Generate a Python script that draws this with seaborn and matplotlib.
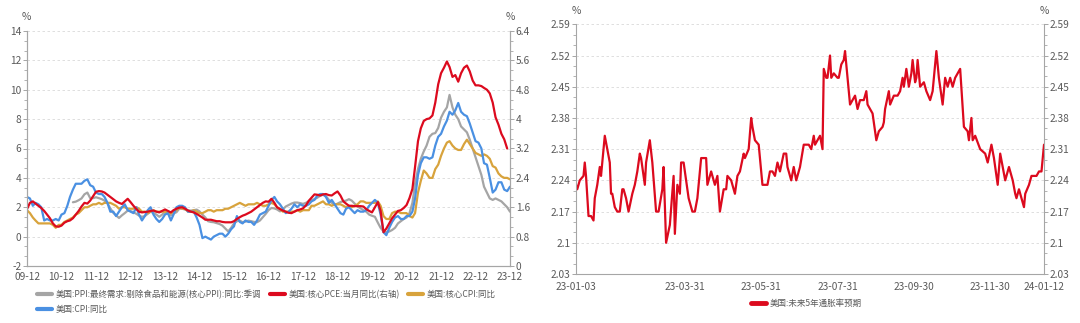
import numpy as np
import pandas as pd
import matplotlib
matplotlib.use('Agg')
import matplotlib.pyplot as plt
import matplotlib.dates as mdates
from matplotlib.ticker import AutoMinorLocator, FixedLocator, FixedFormatter, NullFormatter
from matplotlib.lines import Line2D
import seaborn as sns

sns.set_theme(style='white')
plt.rcParams['font.family'] = ['Noto Sans CJK SC', 'DejaVu Sans']
plt.rcParams['axes.unicode_minus'] = False

# ---------------- Left chart data (monthly, 2009-12 .. 2023-12) ----------------
month_start = '2009-12-01'
month_end = '2023-12-01'

cpi_yoy = [2.7,
    2.6, 2.1, 2.3, 2.2, 2.0, 1.1, 1.2, 1.1, 1.1, 1.2, 1.1, 1.5,
    1.6, 2.1, 2.7, 3.2, 3.6, 3.6, 3.6, 3.8, 3.9, 3.5, 3.4, 3.0,
    2.9, 2.9, 2.7, 2.3, 1.7, 1.7, 1.4, 1.7, 2.0, 2.2, 1.8, 1.7,
    1.6, 2.0, 1.5, 1.1, 1.4, 1.8, 2.0, 1.5, 1.2, 1.0, 1.2, 1.5,
    1.6, 1.1, 1.5, 2.0, 2.1, 2.1, 2.0, 1.7, 1.7, 1.7, 1.3, 0.8,
    -0.1, 0.0, -0.1, -0.2, 0.0, 0.1, 0.2, 0.2, 0.0, 0.2, 0.5, 0.7,
    1.4, 1.0, 0.9, 1.1, 1.0, 1.0, 0.8, 1.1, 1.5, 1.6, 1.7, 2.1,
    2.5, 2.7, 2.4, 2.2, 1.9, 1.6, 1.7, 1.9, 2.2, 2.0, 2.2, 2.1,
    2.1, 2.2, 2.4, 2.5, 2.8, 2.9, 2.9, 2.7, 2.3, 2.5, 2.2, 1.9,
    1.6, 1.5, 1.9, 2.0, 1.8, 1.6, 1.8, 1.7, 1.7, 1.8, 2.1, 2.3,
    2.5, 2.3, 1.5, 0.3, 0.1, 0.6, 1.0, 1.3, 1.4, 1.2, 1.2, 1.4,
    1.4, 1.7, 2.6, 4.2, 5.0, 5.4, 5.4, 5.3, 5.4, 6.2, 6.8, 7.0,
    7.5, 7.9, 8.5, 8.3, 8.6, 9.1, 8.5, 8.3, 8.2, 7.7, 7.1, 6.5,
    6.4, 6.0, 5.0, 4.9, 4.0, 3.0, 3.2, 3.7, 3.7, 3.2, 3.1, 3.4]

core_cpi_yoy = [1.8,
    1.6, 1.3, 1.1, 0.9, 0.9, 0.9, 0.9, 0.9, 0.8, 0.6, 0.8, 0.8,
    1.0, 1.1, 1.2, 1.3, 1.5, 1.6, 1.8, 2.0, 2.0, 2.1, 2.2, 2.2,
    2.3, 2.2, 2.3, 2.3, 2.3, 2.2, 2.1, 1.9, 2.0, 2.0, 1.9, 1.9,
    1.9, 2.0, 1.9, 1.7, 1.7, 1.6, 1.7, 1.8, 1.7, 1.7, 1.7, 1.7,
    1.6, 1.6, 1.7, 1.8, 2.0, 1.9, 1.9, 1.7, 1.7, 1.8, 1.7, 1.6,
    1.6, 1.7, 1.8, 1.8, 1.7, 1.8, 1.8, 1.8, 1.9, 1.9, 2.0, 2.1,
    2.2, 2.3, 2.2, 2.1, 2.2, 2.2, 2.2, 2.3, 2.2, 2.1, 2.1, 2.2,
    2.3, 2.2, 2.0, 1.9, 1.7, 1.7, 1.7, 1.7, 1.7, 1.8, 1.7, 1.8,
    1.8, 1.8, 2.1, 2.1, 2.2, 2.3, 2.4, 2.2, 2.2, 2.1, 2.2, 2.2,
    2.2, 2.1, 2.0, 2.1, 2.0, 2.1, 2.2, 2.4, 2.4, 2.3, 2.3, 2.3,
    2.3, 2.4, 2.1, 1.4, 1.2, 1.2, 1.6, 1.7, 1.7, 1.6, 1.6, 1.6,
    1.4, 1.3, 1.6, 3.0, 3.8, 4.5, 4.3, 4.0, 4.0, 4.6, 4.9, 5.5,
    6.0, 6.4, 6.5, 6.2, 6.0, 5.9, 5.9, 6.3, 6.6, 6.3, 6.0, 5.7,
    5.6, 5.5, 5.6, 5.5, 5.3, 4.8, 4.7, 4.3, 4.1, 4.0, 4.0, 3.9]

# core PCE (right axis), 2009-12 .. 2023-11
core_pce_yoy = [1.55,
    1.72, 1.76, 1.70, 1.64, 1.58, 1.50, 1.40, 1.30, 1.16, 1.08, 1.07, 1.10,
    1.18, 1.22, 1.24, 1.30, 1.40, 1.50, 1.62, 1.72, 1.70, 1.78, 1.90, 2.02,
    2.04, 2.03, 2.00, 1.94, 1.88, 1.82, 1.76, 1.72, 1.69, 1.76, 1.83, 1.74,
    1.64, 1.55, 1.48, 1.46, 1.47, 1.48, 1.50, 1.51, 1.48, 1.46, 1.50, 1.54,
    1.50, 1.46, 1.52, 1.56, 1.59, 1.60, 1.56, 1.51, 1.48, 1.46, 1.42, 1.37,
    1.32, 1.26, 1.26, 1.26, 1.24, 1.22, 1.22, 1.20, 1.19, 1.19, 1.19, 1.22,
    1.28, 1.33, 1.37, 1.40, 1.44, 1.48, 1.54, 1.60, 1.66, 1.72, 1.76, 1.75,
    1.83, 1.72, 1.60, 1.55, 1.51, 1.48, 1.45, 1.44, 1.48, 1.52, 1.54, 1.57,
    1.65, 1.78, 1.86, 1.95, 1.94, 1.92, 1.95, 1.96, 1.93, 1.92, 1.98, 2.03,
    1.92, 1.76, 1.70, 1.64, 1.64, 1.63, 1.63, 1.63, 1.62, 1.55, 1.50, 1.46,
    1.60, 1.74, 1.50, 0.92, 1.02, 1.16, 1.30, 1.40, 1.50, 1.52, 1.58, 1.66,
    1.85, 2.10, 2.70, 3.40, 3.75, 3.95, 4.00, 4.02, 4.10, 4.45, 4.95, 5.25,
    5.40, 5.57, 5.42, 5.15, 5.20, 5.02, 5.25, 5.40, 5.46, 5.30, 5.05, 4.92,
    4.92, 4.90, 4.85, 4.80, 4.70, 4.45, 4.05, 3.85, 3.60, 3.45, 3.20]

# core PPI (final demand less food & energy), 2011-04 .. 2023-12
core_ppi_start = '2011-04-01'
core_ppi_yoy = [
    2.34, 2.38, 2.48, 2.60, 2.88, 3.00, 2.62, 2.62, 2.68,
    2.62, 2.55, 2.45, 2.25, 1.93, 1.62, 1.45, 1.27, 1.45, 1.60, 1.77, 1.74,
    1.66, 1.55, 1.43, 1.35, 1.40, 1.55, 1.70, 1.62, 1.50, 1.35, 1.50, 1.68,
    1.55, 1.45, 1.58, 1.66, 1.90, 1.90, 1.84, 1.80, 1.77, 1.80, 1.84, 1.72,
    1.50, 1.30, 1.05, 1.00, 0.98, 0.92, 0.86, 0.75, 0.55, 0.35, 0.60, 0.90,
    1.05, 1.09, 0.98, 1.02, 1.09, 1.05, 1.00, 0.98, 1.10, 1.32, 1.55, 1.80,
    1.95, 1.92, 1.85, 1.72, 1.85, 2.05, 2.15, 2.25, 2.32, 2.32, 2.28, 2.23,
    2.30, 2.42, 2.50, 2.55, 2.65, 2.78, 2.85, 2.75, 2.50, 2.30, 2.15, 2.25,
    2.35, 2.42, 2.45, 2.55, 2.45, 2.25, 2.05, 1.93, 1.80, 1.70, 1.50, 1.42,
    1.35, 0.95, 0.60, 0.35, 0.30, 0.35, 0.45, 0.60, 0.90, 1.05, 1.20, 1.30,
    1.60, 2.30, 3.60, 4.60, 5.30, 5.80, 6.20, 6.80, 7.00, 7.05, 7.40, 8.10,
    8.50, 8.80, 9.65, 8.80, 8.30, 8.00, 7.50, 7.30, 7.10, 6.60, 6.00, 5.40,
    4.80, 4.20, 3.40, 3.00, 2.60, 2.50, 2.60, 2.50, 2.40, 2.20, 2.00, 1.70]

left_yticks = [-2, 0, 2, 4, 6, 8, 10, 12, 14]
right_yticks = [0, 0.8, 1.6, 2.4, 3.2, 4.0, 4.8, 5.6, 6.4]
right_ylabels = ['0', '0.8', '1.6', '2.4', '3.2', '4', '4.8', '5.6', '6.4']
left_names = ['美国:PPI:最终需求:剔除食品和能源(核心PPI):同比:季调',
              '美国:核心PCE:当月同比(右轴)',
              '美国:核心CPI:同比',
              '美国:CPI:同比']

# ---------------- Right chart data (daily, 5Y breakeven) ----------------
be_dates = ['2023-01-03', '2023-01-04', '2023-01-06', '2023-01-09', '2023-01-10', '2023-01-11',
    '2023-01-13', '2023-01-15', '2023-01-17', '2023-01-18', '2023-01-20', '2023-01-22',
    '2023-01-23', '2023-01-26', '2023-01-28', '2023-01-30', '2023-01-31', '2023-02-01',
    '2023-02-03', '2023-02-05', '2023-02-07', '2023-02-09', '2023-02-10', '2023-02-12',
    '2023-02-14', '2023-02-17', '2023-02-19', '2023-02-21', '2023-02-23', '2023-02-24',
    '2023-02-27', '2023-02-28', '2023-03-03', '2023-03-05', '2023-03-08', '2023-03-10',
    '2023-03-13', '2023-03-14', '2023-03-16', '2023-03-19', '2023-03-22', '2023-03-23',
    '2023-03-25', '2023-03-27', '2023-03-28', '2023-03-30', '2023-04-01', '2023-04-03',
    '2023-04-06', '2023-04-08', '2023-04-10', '2023-04-13', '2023-04-17', '2023-04-18',
    '2023-04-21', '2023-04-24', '2023-04-26', '2023-04-28', '2023-05-01', '2023-05-03',
    '2023-05-04', '2023-05-07', '2023-05-10', '2023-05-12', '2023-05-14', '2023-05-17',
    '2023-05-18', '2023-05-21', '2023-05-23', '2023-05-24', '2023-05-26', '2023-05-29',
    '2023-06-01', '2023-06-05', '2023-06-07', '2023-06-09', '2023-06-11', '2023-06-13',
    '2023-06-15', '2023-06-18', '2023-06-20', '2023-06-21', '2023-06-24', '2023-06-26',
    '2023-06-28', '2023-07-01', '2023-07-04', '2023-07-08', '2023-07-10', '2023-07-12',
    '2023-07-13', '2023-07-15', '2023-07-17', '2023-07-19', '2023-07-20', '2023-07-22',
    '2023-07-23', '2023-07-25', '2023-07-26', '2023-07-28', '2023-07-31', '2023-08-01',
    '2023-08-03', '2023-08-05', '2023-08-06', '2023-08-08', '2023-08-10', '2023-08-12',
    '2023-08-14', '2023-08-16', '2023-08-18', '2023-08-21', '2023-08-23', '2023-08-24',
    '2023-08-26', '2023-08-28', '2023-08-31', '2023-09-02', '2023-09-05', '2023-09-06',
    '2023-09-07', '2023-09-10', '2023-09-11', '2023-09-14', '2023-09-17', '2023-09-19',
    '2023-09-21', '2023-09-22', '2023-09-24', '2023-09-26', '2023-09-28', '2023-09-29',
    '2023-10-01', '2023-10-02', '2023-10-03', '2023-10-05', '2023-10-08', '2023-10-10',
    '2023-10-13', '2023-10-15', '2023-10-18', '2023-10-20', '2023-10-23', '2023-10-25',
    '2023-10-27', '2023-10-29', '2023-10-31', '2023-11-02', '2023-11-06', '2023-11-09',
    '2023-11-12', '2023-11-13', '2023-11-15', '2023-11-16', '2023-11-18', '2023-11-22',
    '2023-11-26', '2023-11-28', '2023-12-01', '2023-12-03', '2023-12-06', '2023-12-08',
    '2023-12-12', '2023-12-15', '2023-12-18', '2023-12-20', '2023-12-21', '2023-12-23',
    '2023-12-27', '2023-12-28', '2023-12-31', '2024-01-02', '2024-01-04', '2024-01-06',
    '2024-01-08', '2024-01-10', '2024-01-12']
be_values = [2.23, 2.22, 2.24, 2.25, 2.28, 2.25,
    2.16, 2.16, 2.15, 2.20, 2.23, 2.27,
    2.25, 2.34, 2.31, 2.28, 2.21, 2.21,
    2.18, 2.17, 2.17, 2.22, 2.22, 2.20,
    2.17, 2.21, 2.23, 2.26, 2.30, 2.29,
    2.23, 2.28, 2.33, 2.28, 2.17, 2.17,
    2.22, 2.27, 2.10, 2.14, 2.25, 2.12,
    2.23, 2.21, 2.28, 2.28, 2.24, 2.20,
    2.17, 2.17, 2.20, 2.29, 2.29, 2.23,
    2.26, 2.23, 2.25, 2.17, 2.22, 2.22,
    2.25, 2.24, 2.21, 2.25, 2.26, 2.30,
    2.29, 2.31, 2.38, 2.36, 2.33, 2.32,
    2.23, 2.23, 2.26, 2.26, 2.25, 2.28,
    2.26, 2.30, 2.30, 2.27, 2.24, 2.27,
    2.24, 2.27, 2.32, 2.32, 2.31, 2.34,
    2.32, 2.33, 2.34, 2.31, 2.49, 2.47,
    2.47, 2.52, 2.47, 2.48, 2.47, 2.47,
    2.50, 2.51, 2.53, 2.47, 2.41, 2.42,
    2.43, 2.40, 2.42, 2.42, 2.44, 2.41,
    2.40, 2.39, 2.33, 2.35, 2.36, 2.37,
    2.40, 2.44, 2.41, 2.43, 2.43, 2.44,
    2.47, 2.45, 2.49, 2.45, 2.48, 2.51,
    2.46, 2.47, 2.51, 2.45, 2.46, 2.44,
    2.42, 2.44, 2.53, 2.47, 2.41, 2.47,
    2.45, 2.47, 2.45, 2.47, 2.49, 2.36,
    2.35, 2.33, 2.38, 2.33, 2.34, 2.31,
    2.30, 2.28, 2.32, 2.29, 2.23, 2.30,
    2.24, 2.27, 2.24, 2.21, 2.20, 2.22,
    2.18, 2.21, 2.23, 2.25, 2.25, 2.25,
    2.26, 2.26, 2.32]
be_yticks = [2.03, 2.10, 2.17, 2.24, 2.31, 2.38, 2.45, 2.52, 2.59]
be_ylabels = ['2.03', '2.1', '2.17', '2.24', '2.31', '2.38', '2.45', '2.52', '2.59']
be_xlabel_dates = ['2023-01-03', '2023-03-31', '2023-05-31', '2023-07-31', '2023-09-30', '2023-11-30', '2024-01-12']
be_name = '美国:未来5年通胀率预期'

# ---------------- Build frames ----------------
months = pd.date_range(month_start, month_end, freq='MS')
assert len(cpi_yoy) == len(months) == len(core_cpi_yoy)
assert len(core_pce_yoy) == len(months) - 1
ppi_months = pd.date_range(core_ppi_start, month_end, freq='MS')
assert len(core_ppi_yoy) == len(ppi_months)
assert len(be_dates) == len(be_values)

df_cpi = pd.DataFrame({'date': months, 'v': cpi_yoy})
df_ccpi = pd.DataFrame({'date': months, 'v': core_cpi_yoy})
df_pce = pd.DataFrame({'date': months[:-1], 'v': core_pce_yoy})
df_ppi = pd.DataFrame({'date': ppi_months, 'v': core_ppi_yoy})
df_be = pd.DataFrame({'date': pd.to_datetime(be_dates), 'v': be_values})

C_GRAY = '#A5A5A5'
C_RED = '#DC0A1E'
C_GOLD = '#D8A33C'
C_BLUE = '#4A90E2'
AX_COL = '#A6A6A6'
TXT = '#595959'
GRID = '#D9D9D9'
LW = 1.6
FS = 7.3
LFS = 6.1

fig = plt.figure(figsize=(10.8, 3.23), dpi=100)

def style_axis(a):
    for s in ['left', 'right', 'bottom']:
        a.spines[s].set_color(AX_COL)
        a.spines[s].set_linewidth(0.8)
    a.spines['top'].set_visible(False)
    a.tick_params(axis='both', which='major', direction='out', length=3, width=0.7,
                  colors=AX_COL, labelcolor=TXT, labelsize=FS, pad=1.2)
    a.tick_params(axis='both', which='minor', direction='out', length=2, width=0.6,
                  colors=AX_COL)

# ---------------- Left chart ----------------
ax = fig.add_axes([27/1080, 1-266/323, (510-27)/1080, (266-31)/323])
sns.lineplot(data=df_ppi, x='date', y='v', ax=ax, color=C_GRAY, linewidth=LW, legend=False)
sns.lineplot(data=df_ccpi, x='date', y='v', ax=ax, color=C_GOLD, linewidth=LW, legend=False)
sns.lineplot(data=df_cpi, x='date', y='v', ax=ax, color=C_BLUE, linewidth=LW, legend=False)
ax.set_ylim(-2, 14)
ax.set_xlim(months[0], months[-1])
ax.yaxis.set_major_locator(FixedLocator(left_yticks))
ax.yaxis.set_minor_locator(AutoMinorLocator(3))
ax.xaxis.set_major_locator(mdates.MonthLocator(bymonth=[12]))
ax.xaxis.set_major_formatter(mdates.DateFormatter('%y-%m'))
ax.xaxis.set_minor_locator(mdates.MonthLocator(bymonth=[3, 6, 9]))
ax.set_xlabel('')
ax.set_ylabel('')
ax.yaxis.grid(True, which='major', linestyle=(0, (3, 3)), color=GRID, linewidth=0.6)
ax.set_axisbelow(True)
style_axis(ax)

ax2 = ax.twinx()
sns.lineplot(data=df_pce, x='date', y='v', ax=ax2, color=C_RED, linewidth=LW, legend=False)
ax2.set_ylim(0, 6.4)
ax2.yaxis.set_major_locator(FixedLocator(right_yticks))
ax2.yaxis.set_major_formatter(FixedFormatter(right_ylabels))
ax2.yaxis.set_minor_locator(AutoMinorLocator(3))
ax2.set_ylabel('')
style_axis(ax2)
ax2.set_xlim(months[0], months[-1])

fig.text(26/1080, 1-17/323, '%', fontsize=FS, color=TXT, ha='center', va='center')
fig.text(510/1080, 1-17/323, '%', fontsize=FS, color=TXT, ha='center', va='center')

handles = [Line2D([], [], color=C_GRAY, lw=3), Line2D([], [], color=C_BLUE, lw=3),
           Line2D([], [], color=C_RED, lw=3), Line2D([], [], color=C_GOLD, lw=3)]
labels = [left_names[0], left_names[3], left_names[1], left_names[2]]
fig.legend(handles, labels, loc='upper left', bbox_to_anchor=(37/1080, 1-290/323),
           ncol=3, frameon=False, fontsize=LFS, handlelength=1.8, handletextpad=0.4,
           columnspacing=1.0, borderaxespad=0, borderpad=0, labelspacing=0.65,
           labelcolor=TXT)

# ---------------- Right chart ----------------
bx = fig.add_axes([576/1080, 1-274/323, (1044-576)/1080, (274-24.3)/323])
sns.lineplot(data=df_be, x='date', y='v', ax=bx, color=C_RED, linewidth=LW, legend=False)
bx.set_ylim(2.03, 2.59)
x0, x1 = pd.Timestamp(be_dates[0]), pd.Timestamp(be_dates[-1])
bx.set_xlim(x0, x1)
bx.yaxis.set_major_locator(FixedLocator(be_yticks))
bx.yaxis.set_major_formatter(FixedFormatter(be_ylabels))
bx.yaxis.set_minor_locator(AutoMinorLocator(3))
month_ends = list(pd.date_range('2023-01-31', '2023-12-31', freq='ME'))
xt = [x0] + month_ends + [x1]
lab_set = set(pd.to_datetime(be_xlabel_dates))
xl = [d.strftime('%y-%m-%d') if d in lab_set else '' for d in xt]
bx.xaxis.set_major_locator(FixedLocator(mdates.date2num(xt)))
bx.xaxis.set_major_formatter(FixedFormatter(xl))
bx.set_xlabel('')
bx.set_ylabel('')
bx.yaxis.grid(True, which='major', linestyle=(0, (3, 3)), color=GRID, linewidth=0.6)
bx.set_axisbelow(True)
style_axis(bx)
bx.spines['right'].set_visible(True)
bx.tick_params(axis='y', which='both', left=True, right=True, labelleft=True, labelright=True)
bx.tick_params(axis='x', which='major', pad=2.5)

fig.text(576/1080, 1-11/323, '%', fontsize=FS, color=TXT, ha='center', va='center')
fig.text(1044/1080, 1-11/323, '%', fontsize=FS, color=TXT, ha='center', va='center')

fig.legend([Line2D([], [], color=C_RED, lw=3.5)], [be_name], loc='center',
           bbox_to_anchor=(806/1080, 1-303/323), frameon=False, fontsize=LFS,
           handlelength=1.8, handletextpad=0.4, borderaxespad=0, borderpad=0,
           labelcolor=TXT)

fig.savefig('out.png', dpi=100)
